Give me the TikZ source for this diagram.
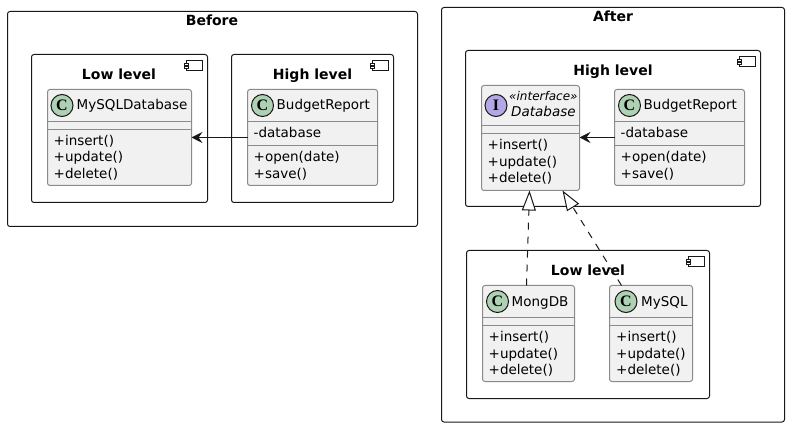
\documentclass[tikz,border=0pt]{standalone}
\usepackage{fontspec}
\setmainfont{DejaVu Sans}
\newfontfamily\spotfont{Liberation Serif}
\usetikzlibrary{arrows.meta}
\definecolor{boxfill}{HTML}{F1F1F1}
\definecolor{boxline}{HTML}{8A8A8A}
\definecolor{spotgreen}{HTML}{ADD1B2}
\definecolor{spotpurple}{HTML}{B4A7E5}
\definecolor{ink}{HTML}{181818}
\tikzset{
    cluster/.style={draw=ink, line width=1pt, rounded corners=2.5pt, anchor=north west, inner sep=0pt, outer sep=0pt},
    classbox/.style={draw=boxline, fill=boxfill, line width=1pt, rounded corners=2.5pt, anchor=north west, inner sep=0pt, outer sep=0pt},
    sepline/.style={draw=boxline, line width=1pt},
    title/.style={font=\fontsize{14}{14}\selectfont\bfseries, inner sep=0pt, anchor=base},
    label/.style={font=\fontsize{13.5}{14}\selectfont, anchor=base west, inner sep=0pt, text=black},
    spot/.style={circle, draw=ink, line width=1pt, minimum size=22pt, inner sep=0pt, font=\fontsize{16}{16}\spotfont\bfseries},
    uses/.style={draw=ink, line width=1pt, -{Stealth[length=11pt,width=11pt,inset=4pt]}},
    realizes/.style={draw=ink, line width=1pt, dash pattern=on 7pt off 7pt, -{Triangle[open,fill=white,length=20pt,width=14pt]}},
    compicon/.pic={
        \draw[ink, line width=0.8pt] (-21,6) rectangle (-5,15.5);
        \draw[ink, line width=0.8pt, fill=white] (-23,8.5) rectangle (-19,10.5);
        \draw[ink, line width=0.8pt, fill=white] (-23,11.5) rectangle (-19,13.5);
    }
}
\begin{document}
\begin{tikzpicture}[x=1pt,y=-1pt]
    \useasboundingbox (0,0) rectangle (789,427);

    % Outer frames
    \node[cluster, minimum width=410pt, minimum height=215pt] (before) at (7.5,11.5) {};
    \node[title] (beforeTitle) at (212,26) {Before};
    \node[cluster, minimum width=343pt, minimum height=414.5pt] (after) at (441.5,7.5) {};
    \node[title] (afterTitle) at (613,22) {After};

    % Before: packages
    \node[cluster, minimum width=176pt, minimum height=148pt] (lowA) at (31.5,54.5) {};
    \node[title] (lowATitle) at (119,80) {Low level};
    \pic at (lowA.north east) {compicon};
    \node[cluster, minimum width=162pt, minimum height=148pt] (highA) at (231.5,54.5) {};
    \node[title] (highATitle) at (312.5,80) {High level};
    \pic at (highA.north east) {compicon};

    % After: packages
    \node[cluster, minimum width=295pt, minimum height=156pt] (highB) at (465.5,50.5) {};
    \node[title] (highBTitle) at (613,76) {High level};
    \pic at (highB.north east) {compicon};
    \node[cluster, minimum width=243pt, minimum height=148pt] (lowB) at (466.5,250.5) {};
    \node[title] (lowBTitle) at (588,276) {Low level};
    \pic at (lowB.north east) {compicon};

    % Before: MySQLDatabase
    \node[classbox, minimum width=144pt, minimum height=96pt] (mysqlDb) at (47.5,89.5) {};
    \draw[sepline] (mysqlDb.west |- 0,121.5) -- (mysqlDb.east |- 0,121.5);
    \draw[sepline] (mysqlDb.west |- 0,129.5) -- (mysqlDb.east |- 0,129.5);
    \node[spot, fill=spotgreen] (mysqlDbSpot) at (62,105.5) {C};
    \node[label] (mysqlDbName) at (76.5,110) {MySQLDatabase};
    \foreach \y/\m in {145.5/insert, 162/update, 178.5/delete} {
        \node[label] (mysqlDb\m) at (53.5,\y) {+\m()};
    }

    % Before: BudgetReport
    \node[classbox, minimum width=130pt, minimum height=96pt] (budgetA) at (247.5,89.5) {};
    \draw[sepline] (budgetA.west |- 0,121.5) -- (budgetA.east |- 0,121.5);
    \draw[sepline] (budgetA.west |- 0,145.5) -- (budgetA.east |- 0,145.5);
    \node[spot, fill=spotgreen] (budgetASpot) at (262.5,105.5) {C};
    \node[label] (budgetAName) at (276.5,110) {BudgetReport};
    \node[label] (budgetAField) at (253.5,137.5) {-database};
    \node[label] (budgetAOpen) at (253.5,162) {+open(date)};
    \node[label] (budgetASave) at (253.5,178.5) {+save()};

    % After: Database
    \node[classbox, minimum width=98pt, minimum height=105pt] (database) at (481.5,85.5) {};
    \draw[sepline] (database.west |- 0,125.5) -- (database.east |- 0,125.5);
    \draw[sepline] (database.west |- 0,133.5) -- (database.east |- 0,133.5);
    \node[spot, fill=spotpurple] (databaseSpot) at (496,105.5) {I};
    \node[label, font=\fontsize{12}{12}\selectfont\itshape] (databaseKind) at (509,100.5) {«interface»};
    \node[label, font=\fontsize{13.5}{14}\selectfont\itshape] (databaseName) at (511,116.5) {Database};
    \foreach \y/\m in {150/insert, 166.5/update, 183/delete} {
        \node[label] (database\m) at (487.5,\y) {+\m()};
    }

    % After: BudgetReport
    \node[classbox, minimum width=130pt, minimum height=96pt] (budgetB) at (614.5,89.5) {};
    \draw[sepline] (budgetB.west |- 0,121.5) -- (budgetB.east |- 0,121.5);
    \draw[sepline] (budgetB.west |- 0,145.5) -- (budgetB.east |- 0,145.5);
    \node[spot, fill=spotgreen] (budgetBSpot) at (629.5,105.5) {C};
    \node[label] (budgetBName) at (643.5,110) {BudgetReport};
    \node[label] (budgetBField) at (620.5,137.5) {-database};
    \node[label] (budgetBOpen) at (620.5,162) {+open(date)};
    \node[label] (budgetBSave) at (620.5,178.5) {+save()};

    % After: MongDB
    \node[classbox, minimum width=92pt, minimum height=96pt] (mongDb) at (482.5,285.5) {};
    \draw[sepline] (mongDb.west |- 0,317.5) -- (mongDb.east |- 0,317.5);
    \draw[sepline] (mongDb.west |- 0,325.5) -- (mongDb.east |- 0,325.5);
    \node[spot, fill=spotgreen] (mongDbSpot) at (497.5,301.5) {C};
    \node[label] (mongDbName) at (511.5,306) {MongDB};
    \foreach \y/\m in {341.5/insert, 358/update, 374.5/delete} {
        \node[label] (mongDb\m) at (488.5,\y) {+\m()};
    }

    % After: MySQL
    \node[classbox, minimum width=83pt, minimum height=96pt] (mysql) at (609.5,285.5) {};
    \draw[sepline] (mysql.west |- 0,317.5) -- (mysql.east |- 0,317.5);
    \draw[sepline] (mysql.west |- 0,325.5) -- (mysql.east |- 0,325.5);
    \node[spot, fill=spotgreen] (mysqlSpot) at (626,301.5) {C};
    \node[label] (mysqlName) at (641,306) {MySQL};
    \foreach \y/\m in {341.5/insert, 358/update, 374.5/delete} {
        \node[label] (mysql\m) at (616,\y) {+\m()};
    }

    % Connectors
    \draw[uses] (budgetA.west) -- (mysqlDb.east);
    \draw[uses] (budgetB.west) -- (budgetB.west -| database.east);
    \draw[realizes] ([xshift=-2pt]mongDb.north) -- ([xshift=-1pt]database.south);
    \draw[realizes] ([xshift=12pt]mysql.north west) -- ([xshift=32pt]database.south);
\end{tikzpicture}
\end{document}
